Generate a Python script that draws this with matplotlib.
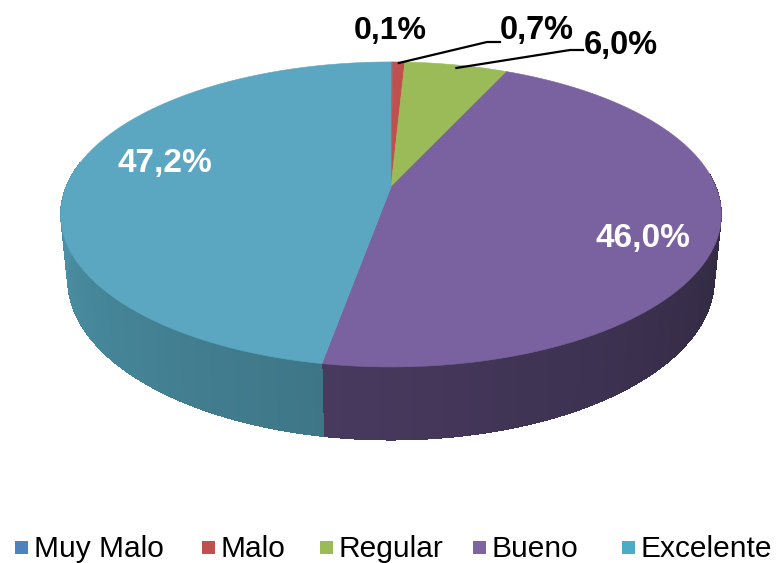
import numpy as np
import matplotlib.pyplot as plt
from matplotlib.patches import Polygon, Rectangle
from matplotlib.colors import to_rgb

categorias = ["Muy Malo", "Malo", "Regular", "Bueno", "Excelente"]
porcentajes = [0.1, 0.7, 6.0, 46.0, 47.2]
etiquetas = ["0,1%", "0,7%", "6,0%", "46,0%", "47,2%"]
colores_leyenda = ["#4f81bd", "#c0504d", "#9bbb59", "#8064a2", "#4bacc6"]
colores_sup = ["#4f81bd", "#c0504d", "#9bbb59", "#7a62a0", "#5ba7c2"]
lado_oscuro = ["#2f4a6e", "#7a302e", "#5e7435", "#2d263c", "#3e7687"]
lado_claro = ["#3f628f", "#9a3e3b", "#7a9646", "#483a5f", "#4e96ac"]

# proyeccion en perspectiva del pastel 3D (coordenadas en pixeles)
S, CX, CY = 325, 391, 187
PHI = np.radians(27)
D = 4.95
H = 0.225


def proyectar(theta, z):
    X = np.sin(theta)
    Y = np.cos(theta)
    v = Y * np.sin(PHI) + z * np.cos(PHI)
    w = -Y * np.cos(PHI) + z * np.sin(PHI)
    esc = D / (D - w)
    return CX + S * X * esc, CY - S * v * esc


def mezclar(c1, c2, f):
    a = np.array(to_rgb(c1))
    b = np.array(to_rgb(c2))
    return tuple(a + (b - a) * f)


fig = plt.figure(figsize=(7.84, 5.63), dpi=100)
ax = fig.add_axes([0, 0, 1, 1])
ax.set_xlim(0, 784)
ax.set_ylim(563, 0)
ax.axis("off")

frac = np.array(porcentajes) / sum(porcentajes)
limites = np.concatenate([[0], np.cumsum(frac)]) * 2 * np.pi

# caras laterales (solo la parte frontal)
vis_ini, vis_fin = np.radians(85), np.radians(280)
for i in range(len(categorias)):
    a0, a1 = max(limites[i], vis_ini), min(limites[i + 1], vis_fin)
    if a1 <= a0:
        continue
    ts = np.linspace(a0, a1, max(int((a1 - a0) / np.radians(0.5)), 2))
    # base de la cara, para que no se vean costuras entre franjas
    xt, yt = proyectar(ts, 0)
    xb, yb = proyectar(ts[::-1], -H)
    base = list(zip(xt, yt)) + list(zip(xb, yb))
    ax.add_patch(Polygon(base, closed=True, facecolor=mezclar(lado_oscuro[i], lado_claro[i], 0.5),
                         edgecolor="none"))
    for j in range(len(ts) - 1):
        t0, t1 = ts[j], ts[j + 1]
        x0, y0 = proyectar(t0, 0)
        x1, y1 = proyectar(t1, 0)
        x2, y2 = proyectar(t1, -H)
        x3, y3 = proyectar(t0, -H)
        f = ((t0 + t1) / 2 - a0) / (a1 - a0)
        col = mezclar(lado_oscuro[i], lado_claro[i], f)
        ax.add_patch(Polygon([(x0, y0), (x1, y1), (x2, y2), (x3, y3)], closed=True,
                             facecolor=col, edgecolor="none", antialiased=False))

# cara superior
centro = (CX, proyectar(np.pi / 2, 0)[1])
for i in range(len(categorias)):
    ts = np.linspace(limites[i], limites[i + 1], max(int((limites[i + 1] - limites[i]) / np.radians(0.5)), 2))
    xs, ys = proyectar(ts, 0)
    pts = [centro] + list(zip(xs, ys))
    ax.add_patch(Polygon(pts, closed=True, facecolor=colores_sup[i], edgecolor=colores_sup[i], lw=0.4))

# etiquetas de datos
fuente = "Liberation Sans"
ax.text(390, 39, etiquetas[0], fontsize=23, fontweight="bold", family=fuente, ha="center", va="baseline", color="black")
ax.text(537, 39, etiquetas[1], fontsize=23.5, fontweight="bold", family=fuente, ha="center", va="baseline", color="black")
ax.text(621, 54, etiquetas[2], fontsize=23.5, fontweight="bold", family=fuente, ha="center", va="baseline", color="black")
ax.text(643, 247, etiquetas[3], fontsize=24, fontweight="bold", family=fuente, ha="center", va="baseline", color="white")
ax.text(165, 172, etiquetas[4], fontsize=24, fontweight="bold", family=fuente, ha="center", va="baseline", color="white")

# lineas guia
xm, ym = proyectar((limites[1] + limites[2]) / 2, 0)
ax.plot([xm, 487, 500], [ym + 1, 42, 42], color="black", lw=1.6)
xm, ym = proyectar((limites[2] + limites[3]) / 2, 0)
ax.plot([xm, 570, 583], [ym + 3, 50, 50], color="black", lw=1.6)

# leyenda
pos_cuadro = [15, 202, 320, 473, 622]
for i, nombre in enumerate(categorias):
    ax.add_patch(Rectangle((pos_cuadro[i], 541), 13, 13, facecolor=colores_leyenda[i], edgecolor="none"))
    ax.text(pos_cuadro[i] + 19, 557, nombre, fontsize=21.5, family=fuente, ha="left", va="baseline", color="black")

fig.savefig("out.png", dpi=100)
